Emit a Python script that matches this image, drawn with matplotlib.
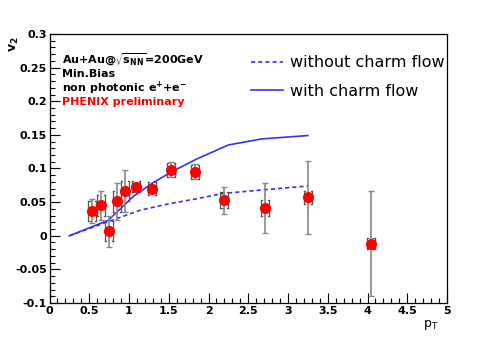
import matplotlib
matplotlib.use("Agg")
import matplotlib.pyplot as plt
import numpy as np

# data
pt = [0.54, 0.65, 0.75, 0.85, 0.95, 1.09, 1.29, 1.53, 1.83, 2.20, 2.71, 3.25, 4.04]
v2 = [0.037, 0.045, 0.007, 0.051, 0.067, 0.073, 0.070, 0.098, 0.095, 0.053, 0.041, 0.057, -0.012]
stat_err = [0.018, 0.021, 0.023, 0.028, 0.031, 0.006, 0.006, 0.011, 0.011, 0.020, 0.037, 0.054, 0.078]
sys_err = [0.015, 0.015, 0.015, 0.015, 0.015, 0.008, 0.010, 0.010, 0.010, 0.012, 0.012, 0.010, 0.008]

pt_with = [0.25, 0.74, 1.05, 1.29, 1.52, 1.85, 2.25, 2.67, 3.25]
v2_with = [0.0, 0.023, 0.058, 0.078, 0.094, 0.114, 0.135, 0.144, 0.149]
pt_without = [0.25, 0.74, 1.14, 1.52, 1.85, 2.19, 2.67, 3.25]
v2_without = [0.0, 0.021, 0.038, 0.048, 0.055, 0.063, 0.068, 0.074]

fig = plt.figure(figsize=(4.98, 3.39), dpi=100)
ax = fig.add_axes([0.0994, 0.1062, 0.7982, 0.7935])

ax.plot(pt_without, v2_without, color="#3333ee", lw=1.2, ls=(0, (2.5, 1.8)),
        label="without charm flow")
ax.plot(pt_with, v2_with, color="#3333ee", lw=1.2, label="with charm flow")

ax.errorbar(pt, v2, yerr=stat_err, fmt="none", ecolor="#888888", elinewidth=1.2,
            capsize=2, capthick=1.0, zorder=3)

# systematic brackets
w = 0.05
for x, y, s in zip(pt, v2, sys_err):
    ax.plot([x - w, x - w], [y - s, y + s], color="#555555", lw=0.9, zorder=3)
    ax.plot([x + w, x + w], [y - s, y + s], color="#555555", lw=0.9, zorder=3)
    ax.plot([x - w, x - w + 0.015], [y + s, y + s], color="#555555", lw=0.9, zorder=3)
    ax.plot([x - w, x - w + 0.015], [y - s, y - s], color="#555555", lw=0.9, zorder=3)
    ax.plot([x + w - 0.015, x + w], [y + s, y + s], color="#555555", lw=0.9, zorder=3)
    ax.plot([x + w - 0.015, x + w], [y - s, y - s], color="#555555", lw=0.9, zorder=3)

ax.plot(pt, v2, "o", color="red", ms=7, mec="red", zorder=4)

ax.set_xlim(0, 5)
ax.set_ylim(-0.1, 0.3)
ax.set_xticks(np.arange(0, 5.01, 0.5))
ax.set_xticklabels(["0", "0.5", "1", "1.5", "2", "2.5", "3", "3.5", "4", "4.5", "5"])
ax.set_yticks(np.arange(-0.1, 0.301, 0.05))
ax.set_yticklabels(["-0.1", "-0.05", "0", "0.05", "0.1", "0.15", "0.2", "0.25", "0.3"])
ax.set_xticks(np.arange(0, 5.01, 0.1), minor=True)
ax.set_yticks(np.arange(-0.1, 0.301, 0.01), minor=True)
ax.tick_params(which="both", direction="in", top=False, right=False, width=0.8)
ax.tick_params(which="major", length=7, labelsize=8)
ax.tick_params(which="minor", length=3.5)
for lab in ax.get_xticklabels() + ax.get_yticklabels():
    lab.set_fontweight("bold")
ax.tick_params(axis="x", pad=2)
ax.tick_params(axis="y", pad=2)
for sp in ax.spines.values():
    sp.set_linewidth(0.9)

fig.text(0.030, 0.87, r"$\mathbf{v_2}$", rotation=90, fontsize=9, ha="center", va="center")
fig.text(0.865, 0.04, r"$\mathrm{p_T}$", fontsize=9, ha="center", va="center")

tx = 62 / 498
fig.text(tx, 1 - 60 / 339, r"Au+Au@$\sqrt{\mathbf{s_{NN}}}$=200GeV", fontsize=8, fontweight="bold", va="center")
fig.text(tx, 1 - 74 / 339, "Min.Bias", fontsize=8, fontweight="bold", va="center")
fig.text(tx, 1 - 88 / 339, r"non photonic e$^{\mathbf{+}}$+e$^{\mathbf{-}}$", fontsize=8, fontweight="bold", va="center")
fig.text(tx, 1 - 102 / 339, "PHENIX preliminary", fontsize=8, fontweight="bold", color="red", va="center")

leg = ax.legend(loc="upper left", bbox_to_anchor=(0.47, 0.975), frameon=False, fontsize=11.5,
                handlelength=2.0, handletextpad=0.45, labelspacing=0.85)

fig.savefig("out.png", dpi=100)
